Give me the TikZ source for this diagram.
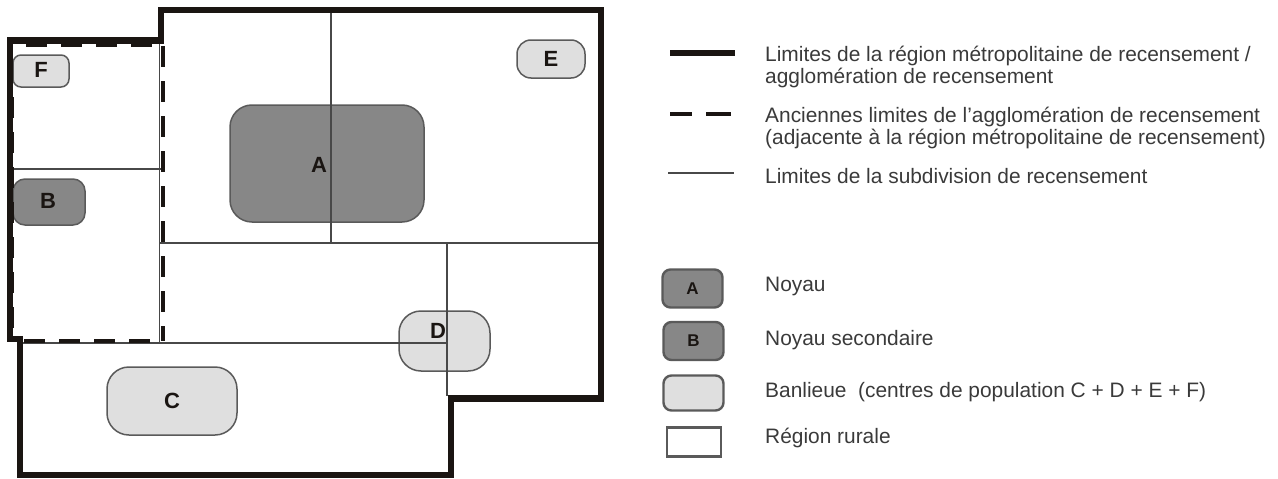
\documentclass[tikz,border=0pt]{standalone}
\usepackage{fontspec}
\setmainfont{Liberation Sans}
\definecolor{inkc}{HTML}{1A1512}
\definecolor{corec}{HTML}{878787}
\definecolor{subc}{HTML}{DFDFDF}
\definecolor{edgec}{HTML}{5A5A5A}
\definecolor{textc}{HTML}{3A3A3A}
\tikzset{
  thickline/.style={draw=inkc,line width=6.6pt,line join=miter},
  dashline/.style={draw=inkc,line width=4pt,dash pattern=on 21pt off 14pt},
  thinline/.style={draw=edgec!80!black,line width=1.8pt},
  zonebox/.style={draw=edgec,line width=1.5pt,inner sep=0pt,outer sep=0pt,text=inkc},
  corezone/.style={zonebox,fill=corec},
  subzone/.style={zonebox,fill=subc},
  zoneletter/.style={inner sep=0pt,text=inkc,font=\fontsize{22}{22}\selectfont\bfseries},
  legtext/.style={anchor=base west,inner sep=0pt,text=textc,font=\fontsize{20.9}{22}\selectfont,align=left},
  legmark/.style={zonebox,line width=2.4pt,font=\fontsize{17}{17}\selectfont\bfseries}
}
\newcommand{\zone}[7]{% name, style, x1,y1,x2,y2, radius
  \path[#2,rounded corners=#7] (#3,#4) rectangle (#5,#6);}
\begin{document}
\begin{tikzpicture}[x=1pt,y=-1pt]
\useasboundingbox (0,0) rectangle (1278,479);
% zones
\zone{za}{corezone}{230}{105}{424}{222}{22pt}
\zone{zb}{corezone}{13}{179}{85}{225}{12pt}
\zone{zf}{subzone}{13}{55}{69}{87}{8pt}
\zone{ze}{subzone}{517}{40}{585}{78}{14pt}
\zone{zd}{subzone}{399}{311}{490}{371}{22pt}
\zone{zc}{subzone}{107}{367}{237}{435}{22pt}
% subdivision limits
\draw[thinline] (331,10) -- (331,243);
\draw[thinline] (160,243) -- (600,243);
\draw[thinline] (13,169) -- (162,169);
\draw[thinline] (20,343) -- (447,343);
\draw[thinline] (447,243) -- (447,396);
\draw[thinline] (159.5,44) -- (159.5,343);
% former limits
\draw[dashline] (26,44.5) -- (152,44.5);
\draw[dashline] (12,97) -- (12,336);
\draw[dashline] (163,46) -- (163,341);
\draw[dashline,line width=3.5pt] (150,341) -- (20,341);
% outer limit
\draw[thickline] (10,40.5) -- (161,40.5) -- (161,10) -- (601,10) -- (601,398.5) -- (451,398.5) -- (451,475) -- (20,475) -- (20,339) -- (10,339) -- cycle;
% zone letters
\node[zoneletter] (la) at (319,165) {A};
\node[zoneletter] (lb) at (48,201) {B};
\node[zoneletter] (lf) at (41,70) {F};
\node[zoneletter] (le) at (551,59) {E};
\node[zoneletter] (ld) at (438,331) {D};
\node[zoneletter] (lc) at (172,401) {C};
% legend lines
\draw[thickline] (670,53) -- (735,53);
\draw[draw=inkc,line width=4pt] (670,114) -- (692,114);
\draw[draw=inkc,line width=4pt] (706,114) -- (731,114);
\draw[thinline] (668,173) -- (734,173);
% legend boxes
\node[legmark,fill=corec,rounded corners=8pt,minimum width=60pt,minimum height=38pt] (ka) at (692.5,288.5) {A};
\node[legmark,fill=corec,rounded corners=8pt,minimum width=60pt,minimum height=38pt] (kb) at (693.5,341) {B};
\node[legmark,fill=subc,rounded corners=8pt,minimum width=60pt,minimum height=35pt] (kc) at (693.5,393) {};
\node[legmark,fill=white,rounded corners=0pt,minimum width=54pt,minimum height=29pt] (kd) at (694,442) {};
% legend text
\node[legtext] (t1) at (765,83) {Limites de la région métropolitaine de recensement /\\agglomération de recensement};
\node[legtext] (t2) at (765,144) {Anciennes limites de l'agglomération de recensement\\(adjacente à la région métropolitaine de recensement)};
\node[legtext] (t3) at (765,183) {Limites de la subdivision de recensement};
\node[legtext] (t4) at (765,291) {Noyau};
\node[legtext] (t5) at (765,345) {Noyau secondaire};
\node[legtext] (t6) at (765,397) {Banlieue\ \ (centres de population C + D + E + F)};
\node[legtext] (t7) at (765,443) {Région rurale};
\end{tikzpicture}
\end{document}
